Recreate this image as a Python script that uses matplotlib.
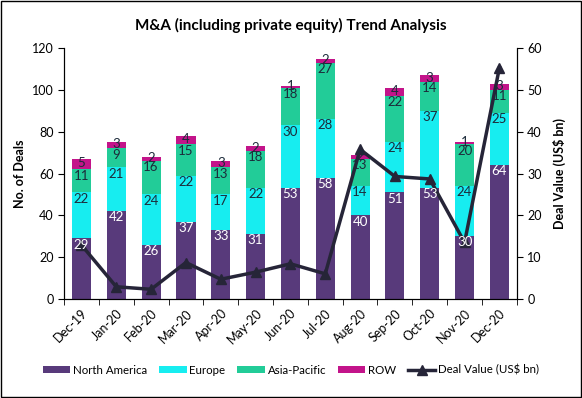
import matplotlib.pyplot as plt
import numpy as np

plt.rcParams['font.family'] = ['Lato', 'DejaVu Sans']

months = ['Dec-19', 'Jan-20', 'Feb-20', 'Mar-20', 'Apr-20', 'May-20', 'Jun-20',
          'Jul-20', 'Aug-20', 'Sep-20', 'Oct-20', 'Nov-20', 'Dec-20']
north_america = [29, 42, 26, 37, 33, 31, 53, 58, 40, 51, 53, 30, 64]
europe = [22, 21, 24, 22, 17, 22, 30, 28, 14, 24, 37, 24, 25]
asia_pacific = [11, 9, 16, 15, 13, 18, 18, 27, 13, 22, 14, 20, 11]
row = [5, 3, 2, 4, 3, 2, 1, 2, 2, 4, 3, 1, 3]
deal_value = [12.9, 2.9, 2.3, 8.7, 4.7, 6.4, 8.4, 6.0, 35.8, 29.3, 28.7, 13.5, 55.3]

series = [
    ('North America', north_america, '#583A7B', 'white'),
    ('Europe', europe, '#17EDF0', '#1c2b3a'),
    ('Asia-Pacific', asia_pacific, '#22CC98', '#1c2b3a'),
    ('ROW', row, '#C3148A', '#1c2b3a'),
]

fig = plt.figure(figsize=(5.82, 3.98), dpi=100)
ax = fig.add_axes([0.110, 0.249, 0.778, 0.630])
ax2 = ax.twinx()
x = np.arange(len(months))
bottom = np.zeros(len(months))
handles = []
for name, vals, color, tcolor in series:
    vals = np.array(vals, dtype=float)
    bars = ax.bar(x, vals, 0.55, bottom=bottom, color=color, label=name, zorder=2)
    handles.append(bars)
    for xi, b, v in zip(x, bottom, vals):
        # labels sit near the top of each segment (Excel "inside end")
        if name == 'ROW':
            ty = b + v / 2 + 0.4
        else:
            ty = b + v - 3.0
        # drawn on the twin axes so they stay above the line, like Excel
        ax2.text(xi, ty, f'{int(v)}', ha='center', va='center', transform=ax.transData,
                 fontsize=9.5, color=tcolor, zorder=8)
    bottom += vals

ax.set_xlim(-0.5, len(months) - 0.5)
ax.set_ylim(0, 120)
ax.set_yticks(range(0, 121, 20))
ax.set_xticks(x)
ax.set_xticklabels(months, rotation=45, ha='right', rotation_mode='anchor', fontsize=9)
ax.tick_params(axis='x', length=0, pad=6)
ax.set_xticks(np.arange(-0.5, len(months), 1), minor=True)
ax.tick_params(axis='x', which='minor', length=4, direction='out')
ax.tick_params(axis='y', labelsize=9, length=4)
ax.spines['top'].set_visible(False)
ax.set_ylabel('No. of Deals', fontsize=9, fontweight='bold')

line, = ax2.plot(x, deal_value, color='#262538', lw=2.5, marker='^', ms=7,
                 label='Deal Value (US$ bn)', zorder=6)
ax2.set_ylim(0, 60)
ax2.set_yticks(range(0, 61, 10))
ax2.tick_params(axis='y', labelsize=9, length=4)
ax2.spines['top'].set_visible(False)
ax2.set_ylabel('Deal Value (US$ bn)', fontsize=9, fontweight='bold', labelpad=8)

fig.suptitle('M&A (including private equity) Trend Analysis', fontsize=11,
             fontweight='bold', y=0.955)
fig.legend(handles + [line], [h.get_label() for h in handles] + [line.get_label()],
           loc='lower center', ncol=5, frameon=False, fontsize=8.3,
           bbox_to_anchor=(0.5, 0.03), handlelength=2.4, handleheight=0.5,
           columnspacing=1.0, handletextpad=0.25)

fig.patches.append(plt.Rectangle((0.002, 0.002), 0.996, 0.996, transform=fig.transFigure,
                                 fill=False, edgecolor='black', lw=1))
fig.savefig('out.png', dpi=100)
